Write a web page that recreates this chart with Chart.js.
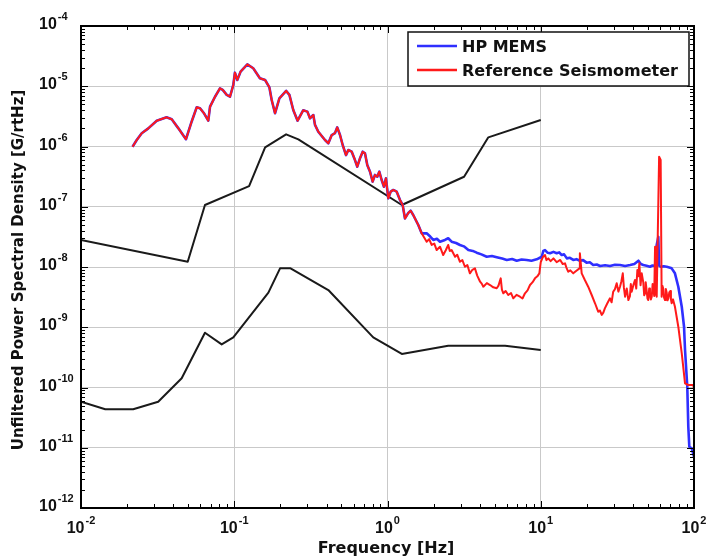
<!DOCTYPE html>
<html>
<head>
<meta charset="utf-8">
<script src="https://cdn.jsdelivr.net/npm/chart.js@4.4.0/dist/chart.umd.min.js"></script>
<style>
  body { margin: 0; background: #fff; }
</style>
</head>
<body>
<canvas id="myChart" width="706" height="559"></canvas>
<script>
// Both sensors read the same below ~1.7 Hz
const sharedFreq = [0.0217, 0.0231, 0.0249, 0.0275, 0.0312, 0.0362, 0.0391, 0.0432, 0.0484, 0.0527,
    0.0569, 0.0598, 0.0635, 0.0677, 0.0695, 0.0749, 0.0807, 0.0841, 0.0893, 0.0938,
    0.0986, 0.101, 0.1047, 0.110, 0.1217, 0.133, 0.147, 0.159, 0.1695, 0.1755,
    0.1845, 0.197, 0.218, 0.229, 0.243, 0.259, 0.282, 0.300, 0.312, 0.328,
    0.3365, 0.3535, 0.391, 0.411, 0.4325, 0.454, 0.470, 0.490, 0.510, 0.536,
    0.555, 0.584, 0.607, 0.635, 0.662, 0.689, 0.713, 0.738, 0.769, 0.800,
    0.828, 0.858, 0.884, 0.916, 0.948, 0.977, 1.012, 1.049, 1.091, 1.148,
    1.207, 1.256, 1.30, 1.367, 1.416, 1.472, 1.588, 1.671];
const sharedPsd = [9.9e-7, 1.28e-6, 1.66e-6, 2.0e-6, 2.68e-6, 3.05e-6, 2.83e-6, 2.0e-6, 1.32e-6, 2.58e-6,
    4.48e-6, 4.31e-6, 3.56e-6, 2.68e-6, 4.58e-6, 6.7e-6, 9.25e-6, 8.7e-6, 7.2e-6, 6.7e-6,
    1.05e-5, 1.68e-5, 1.27e-5, 1.75e-5, 2.31e-5, 1.99e-5, 1.36e-5, 1.27e-5, 9.6e-6, 5.9e-6,
    3.56e-6, 6.3e-6, 8.4e-6, 7.2e-6, 4.0e-6, 2.68e-6, 4.0e-6, 3.79e-6, 2.94e-6, 3.33e-6,
    2.28e-6, 1.76e-6, 1.28e-6, 1.13e-6, 1.55e-6, 1.66e-6, 2.08e-6, 1.55e-6, 1.06e-6, 7.2e-7,
    8.75e-7, 8.2e-7, 6.4e-7, 4.62e-7, 6.4e-7, 8.2e-7, 7.7e-7, 4.93e-7, 3.82e-7, 2.61e-7,
    3.37e-7, 3.15e-7, 3.82e-7, 2.78e-7, 2.15e-7, 2.96e-7, 1.38e-7, 1.78e-7, 1.90e-7, 1.78e-7,
    1.29e-7, 1.07e-7, 6.4e-8, 7.9e-8, 8.6e-8, 7.3e-8, 4.98e-8, 3.62e-8];

// HP MEMS above the split
const memsFreq = [1.801, 1.9, 1.989, 2.1, 2.20, 2.37, 2.49, 2.62, 2.8, 2.97,
    3.15, 3.37, 3.6, 3.82, 4.1, 4.44, 4.8, 5.16, 5.6, 6.0,
    6.5, 6.97, 7.5, 8.09, 8.7, 9.41, 10.15, 10.4, 10.66, 11.1,
    11.5, 12.1, 12.7, 13.2, 13.7, 14.2, 14.8, 15.5, 16.3, 17.1,
    18.0, 18.9, 19.9, 20.9, 22.0, 23.2, 24.4, 26.3, 28.3, 30.5,
    32.9, 35.5, 38.3, 40.8, 43.4, 45.0, 46.7, 49.0, 51.6, 53.6,
    55.7, 57.1, 58.5, 59.2, 60.6, 63.5, 66.4, 69.0, 71.5, 75.1,
    79.0, 83.2, 86.1, 87.4, 90.4, 91.8, 93.2, 96.6, 100];
const memsPsd = [3.62e-8, 3.2e-8, 2.81e-8, 2.95e-8, 2.63e-8, 2.81e-8, 3.0e-8, 2.63e-8, 2.5e-8, 2.32e-8,
    2.2e-8, 1.91e-8, 1.85e-8, 1.73e-8, 1.62e-8, 1.48e-8, 1.52e-8, 1.45e-8, 1.38e-8, 1.31e-8,
    1.36e-8, 1.27e-8, 1.33e-8, 1.31e-8, 1.27e-8, 1.34e-8, 1.48e-8, 1.85e-8, 1.91e-8, 1.72e-8,
    1.69e-8, 1.78e-8, 1.69e-8, 1.75e-8, 1.58e-8, 1.62e-8, 1.39e-8, 1.42e-8, 1.31e-8, 1.35e-8,
    1.27e-8, 1.3e-8, 1.18e-8, 1.2e-8, 1.08e-8, 1.1e-8, 1.04e-8, 1.07e-8, 1.04e-8, 1.09e-8,
    1.08e-8, 1.04e-8, 1.08e-8, 1.12e-8, 1.27e-8, 1.12e-8, 1.08e-8, 1.05e-8, 1.01e-8, 1.06e-8,
    1.04e-8, 2.32e-8, 3.18e-8, 1.05e-8, 1.01e-8, 1.03e-8, 1.01e-8, 9.8e-9, 9.5e-9, 7.85e-9,
    4.71e-9, 2.19e-9, 1.02e-9, 4.19e-10, 1.03e-10, 2.23e-11, 1.04e-11, 9.8e-12, 7.1e-12];

// Reference seismometer above the split
const seisFreq = [1.801, 1.87, 1.941, 2.02, 2.094, 2.20, 2.31, 2.40, 2.49, 2.55,
    2.62, 2.76, 2.85, 2.97, 3.08, 3.20, 3.32, 3.45, 3.58, 3.72,
    3.85, 4.02, 4.12, 4.22, 4.45, 4.67, 4.9, 5.16, 5.3, 5.48,
    5.58, 5.70, 5.9, 6.14, 6.4, 6.62, 6.95, 7.32, 7.6, 7.89,
    8.2, 8.51, 8.85, 9.17, 9.5, 9.79, 10.0, 10.3, 10.66, 10.9,
    11.2, 11.6, 12.1, 12.7, 13.4, 13.9, 14.4, 14.7, 15.1, 15.6,
    16.3, 17.0, 17.9, 18.0, 18.5, 19.4, 20.4, 21.5, 22.6, 23.7,
    24.3, 25.0, 25.6, 26.2, 27.2, 28.3, 29.0, 29.7, 30.5, 31.3,
    32.1, 32.9, 33.6, 34.3, 34.9, 35.5, 36.4, 37.3, 38.2, 38.7,
    39.2, 40.2, 41.2, 42.0, 42.7, 43.3, 44.0, 44.8, 45.6, 46.7,
    47.3, 47.9, 48.4, 49.0, 49.7, 50.3, 51.0, 51.6, 52.3, 53.0,
    53.7, 54.3, 55.0, 55.7, 56.4, 57.1, 59.2, 60.6, 61.5, 62.2,
    63.0, 63.8, 64.7, 65.5, 66.4, 67.2, 68.0, 69.0, 70.0, 70.7,
    71.5, 73.0, 75.1, 79.0, 83.2, 87.4, 91.8, 98.9, 100];
const seisPsd = [2.63e-8, 2.9e-8, 2.32e-8, 2.45e-8, 1.91e-8, 2.17e-8, 1.58e-8, 1.9e-8, 2.32e-8, 1.85e-8,
    1.91e-8, 1.48e-8, 1.6e-8, 1.22e-8, 1.3e-8, 1.01e-8, 1.08e-8, 7.85e-9, 9.0e-9, 9.5e-9,
    7.2e-9, 5.7e-9, 5.3e-9, 4.71e-9, 5.4e-9, 5.02e-9, 4.6e-9, 4.43e-9, 4.9e-9, 6.48e-9,
    4.2e-9, 3.66e-9, 4.0e-9, 3.43e-9, 3.7e-9, 3.02e-9, 3.45e-9, 3.21e-9, 3.0e-9, 3.66e-9,
    4.1e-9, 5.02e-9, 5.6e-9, 6.48e-9, 7.0e-9, 7.85e-9, 1.21e-8, 1.45e-8, 1.58e-8, 1.3e-8,
    1.39e-8, 1.25e-8, 1.39e-8, 1.2e-8, 1.31e-8, 1.12e-8, 1.15e-8, 9.8e-9, 8.35e-9, 8.8e-9,
    7.85e-9, 8.6e-9, 9.5e-9, 1.69e-8, 7.85e-9, 6.08e-9, 4.71e-9, 3.43e-9, 2.5e-9, 1.81e-9,
    1.9e-9, 1.6e-9, 1.75e-9, 2.06e-9, 2.5e-9, 3.02e-9, 2.6e-9, 3.89e-9, 4.3e-9, 5.36e-9,
    3.9e-9, 4.71e-9, 5.8e-9, 7.85e-9, 4.5e-9, 3.21e-9, 4.4e-9, 2.83e-9, 3.3e-9, 5.2e-9,
    3.89e-9, 5.0e-9, 6.08e-9, 4.4e-9, 8.9e-9, 7.0e-9, 1.15e-8, 5.0e-9, 7.85e-9, 5.5e-9,
    3.4e-9, 3.66e-9, 5.6e-9, 4.2e-9, 3.0e-9, 2.83e-9, 4.4e-9, 3.6e-9, 2.9e-9, 3.21e-9,
    5.2e-9, 4.5e-9, 3.3e-9, 2.17e-8, 3.6e-9, 3.21e-9, 6.78e-7, 5.97e-7, 3.21e-9, 4.9e-9,
    4.4e-9, 3.1e-9, 2.83e-9, 4.3e-9, 3.7e-9, 2.8e-9, 3.02e-9, 3.8e-9, 4.0e-9, 2.9e-9,
    2.5e-9, 2.9e-9, 2.19e-9, 1.02e-9, 3.7e-10, 1.17e-10, 1.1e-10, 1.1e-10, 9.5e-11];

// upper and lower black noise model curves
const highModelFreq = [0.01, 0.0497, 0.0644, 0.125, 0.159, 0.218, 0.262, 1.24, 3.16, 4.55, 10];
const highModelPsd = [2.8e-8, 1.22e-8, 1.07e-7, 2.2e-7, 9.7e-7, 1.59e-6, 1.31e-6, 1.07e-7, 3.15e-7, 1.42e-6, 2.75e-6];
const lowModelFreq = [0.01, 0.0144, 0.0219, 0.0319, 0.0454, 0.0644, 0.0828, 0.0986, 0.167, 0.199,
    0.233, 0.411, 0.807, 1.24, 2.49, 5.85, 10];
const lowModelPsd = [5.8e-11, 4.35e-11, 4.35e-11, 5.8e-11, 1.42e-10, 8.1e-10, 5.2e-10, 6.8e-10, 3.75e-9, 9.5e-9,
    9.5e-9, 4.15e-9, 6.8e-10, 3.6e-10, 4.95e-10, 4.95e-10, 4.2e-10];

const seriesNames = ["HP MEMS", "Reference Seismometer"];
const seriesColors = ["#2f2fff", "#ff1a1a"];
const xExps = [-2, -1, 0, 1, 2];
const yExps = [-12, -11, -10, -9, -8, -7, -6, -5, -4];
const xTitle = "Frequency [Hz]";
const yTitle = "Unfiltered Power Spectral Density [G/rtHz]";

function pairs(f, v) {
    return f.map(function (x, i) { return { x: x, y: v[i] }; });
}

function drawPower(ctx, exp, x, y, centered) {
    ctx.font = 'bold 16px "Liberation Sans"';
    var w1 = ctx.measureText('10').width;
    ctx.font = 'bold 11px "Liberation Sans"';
    var w2 = ctx.measureText(exp).width;
    var left = centered ? x - (w1 + 1 + w2) / 2 : x;
    ctx.textAlign = 'left';
    ctx.textBaseline = 'alphabetic';
    ctx.font = 'bold 16px "Liberation Sans"';
    ctx.fillText('10', left, y);
    ctx.font = 'bold 11px "Liberation Sans"';
    ctx.fillText(exp, left + w1 + 1, y - 9);
}

// frame, little ticks, labels and the legend box
const decorations = {
    id: 'decorations',
    afterDraw(chart) {
        var ctx = chart.ctx;
        var a = chart.chartArea;
        var xs = chart.scales.x, ys = chart.scales.y;
        ctx.save();
        ctx.strokeStyle = '#000';
        ctx.lineWidth = 1;
        ctx.beginPath();
        for (var e = xExps[0]; e < xExps[xExps.length - 1]; e++) {
            for (var k = 1; k <= 9; k++) {
                var px = Math.round(xs.getPixelForValue(k * Math.pow(10, e))) + 0.5;
                var len = k == 1 ? 7 : 4;
                ctx.moveTo(px, a.bottom); ctx.lineTo(px, a.bottom - len);
                ctx.moveTo(px, a.top); ctx.lineTo(px, a.top + len);
            }
        }
        for (var e = yExps[0]; e < yExps[yExps.length - 1]; e++) {
            for (var k = 1; k <= 9; k++) {
                var py = Math.round(ys.getPixelForValue(k * Math.pow(10, e))) + 0.5;
                var len = k == 1 ? 7 : 4;
                ctx.moveTo(a.left, py); ctx.lineTo(a.left + len, py);
                ctx.moveTo(a.right, py); ctx.lineTo(a.right - len, py);
            }
        }
        ctx.stroke();

        ctx.lineWidth = 2;
        ctx.strokeRect(a.left, a.top, a.right - a.left, a.bottom - a.top);

        // tick labels
        ctx.fillStyle = '#111';
        for (var i = 0; i < yExps.length; i++) {
            var py = ys.getPixelForValue(Math.pow(10, yExps[i]));
            drawPower(ctx, String(yExps[i]), 39, py + 3, false);
        }
        for (var i = 0; i < xExps.length; i++) {
            var px = xs.getPixelForValue(Math.pow(10, xExps[i]));
            drawPower(ctx, String(xExps[i]), px, a.bottom + 25, true);
        }

        // axis titles
        ctx.font = 'bold 16px "DejaVu Sans"';
        ctx.textAlign = 'center';
        ctx.textBaseline = 'alphabetic';
        ctx.fillText(xTitle, 386, 553);
        ctx.save();
        ctx.translate(19, 270);
        ctx.rotate(-Math.PI / 2);
        ctx.font = 'bold 15px "DejaVu Sans"';
        ctx.textBaseline = 'middle';
        ctx.fillText(yTitle, 0, 0);
        ctx.restore();

        // legend
        ctx.fillStyle = '#fff';
        ctx.fillRect(408, 32, 281, 54);
        ctx.lineWidth = 1.5;
        ctx.strokeStyle = '#111';
        ctx.strokeRect(408, 32, 281, 54);
        ctx.font = 'bold 16px "DejaVu Sans"';
        ctx.textAlign = 'left';
        for (var i = 0; i < seriesNames.length; i++) {
            var ly = 46 + i * 24;
            ctx.strokeStyle = seriesColors[i];
            ctx.lineWidth = 2.5;
            ctx.beginPath();
            ctx.moveTo(417, ly); ctx.lineTo(457, ly);
            ctx.stroke();
            ctx.fillStyle = '#111';
            ctx.fillText(seriesNames[i], 462, ly + 5.5);
        }
        ctx.restore();
    }
};

function logAxis(min, max, exps, side) {
    return {
        type: 'logarithmic',
        min: min,
        max: max,
        bounds: 'data',
        afterBuildTicks: function (scale) {
            scale.ticks = exps.map(function (e) { return { value: Math.pow(10, e), major: true }; });
        },
        afterFit: function (scale) {
            if (side == 'x') scale.height = 51; else scale.width = 81;
        },
        ticks: { display: false },
        grid: { color: '#c9c9c9', lineWidth: 1, drawTicks: false },
        border: { display: false }
    };
}

var lineStyle = { showLine: true, pointRadius: 0, fill: false, tension: 0, borderJoinStyle: 'round' };

new Chart(document.getElementById('myChart'), {
    type: 'scatter',
    data: {
        datasets: [
            Object.assign({ label: seriesNames[1], data: pairs(sharedFreq.concat(seisFreq), sharedPsd.concat(seisPsd)),
                borderColor: seriesColors[1], borderWidth: 2, order: 0 }, lineStyle),
            Object.assign({ label: seriesNames[0], data: pairs(sharedFreq.concat(memsFreq), sharedPsd.concat(memsPsd)),
                borderColor: seriesColors[0], borderWidth: 2.6, order: 1 }, lineStyle),
            Object.assign({ label: 'high', data: pairs(highModelFreq, highModelPsd),
                borderColor: '#1a1a1a', borderWidth: 2, order: 2 }, lineStyle),
            Object.assign({ label: 'low', data: pairs(lowModelFreq, lowModelPsd),
                borderColor: '#1a1a1a', borderWidth: 2, order: 2 }, lineStyle)
        ]
    },
    options: {
        responsive: false,
        animation: false,
        devicePixelRatio: 1,
        layout: { padding: { left: 0, top: 26, right: 12, bottom: 0 } },
        plugins: { legend: { display: false }, tooltip: { enabled: false } },
        scales: {
            x: logAxis(0.01, 100, xExps, 'x'),
            y: logAxis(1e-12, 1e-4, yExps, 'y')
        }
    },
    plugins: [decorations]
});
</script>
</body>
</html>
